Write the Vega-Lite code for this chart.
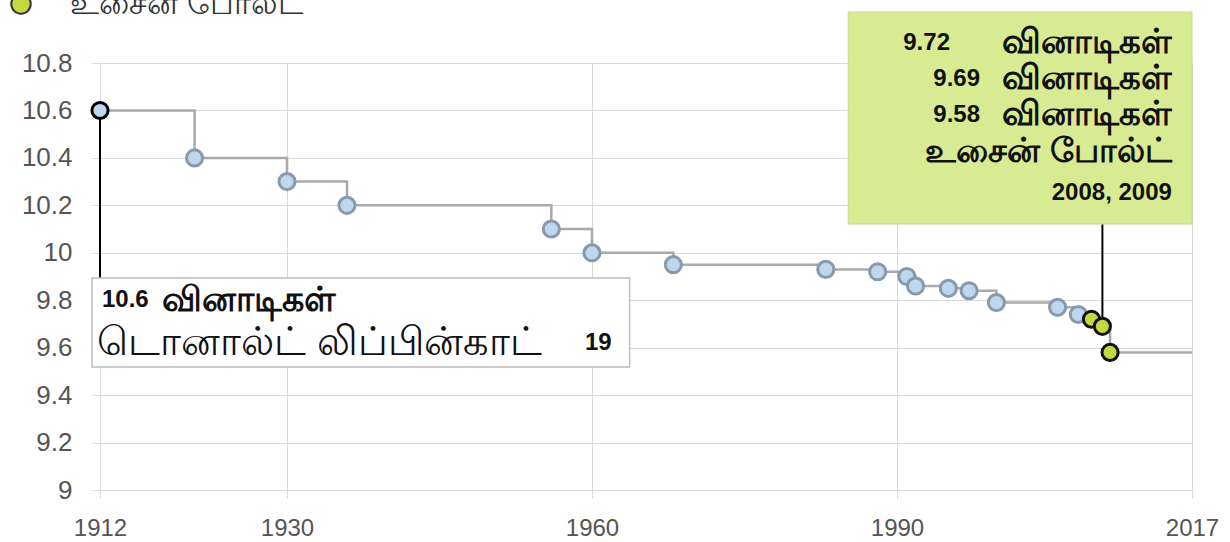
{
  "$schema": "https://vega.github.io/schema/vega-lite/v6.json",
  "width": 1092,
  "height": 427,
  "autosize": {"type": "none"},
  "padding": {"left": 100, "top": 63, "right": 38, "bottom": 52},
  "background": "white",
  "config": {"view": {"stroke": null}, "font": "Liberation Sans"},
  "data": {"values": [
    {"year": 1912, "time": 10.6, "athlete": "Lippincott", "kind": "record"},
    {"year": 1921.1, "time": 10.4, "athlete": "other", "kind": "record"},
    {"year": 1930, "time": 10.3, "athlete": "other", "kind": "record"},
    {"year": 1935.9, "time": 10.2, "athlete": "other", "kind": "record"},
    {"year": 1956, "time": 10.1, "athlete": "other", "kind": "record"},
    {"year": 1960, "time": 10.0, "athlete": "other", "kind": "record"},
    {"year": 1968, "time": 9.95, "athlete": "other", "kind": "record"},
    {"year": 1983, "time": 9.93, "athlete": "other", "kind": "record"},
    {"year": 1988.1, "time": 9.92, "athlete": "other", "kind": "record"},
    {"year": 1990.9, "time": 9.9, "athlete": "other", "kind": "record"},
    {"year": 1991.7, "time": 9.86, "athlete": "other", "kind": "record"},
    {"year": 1994.7, "time": 9.85, "athlete": "other", "kind": "record"},
    {"year": 1996.6, "time": 9.84, "athlete": "other", "kind": "record"},
    {"year": 1999.1, "time": 9.79, "athlete": "other", "kind": "record"},
    {"year": 2004.7, "time": 9.77, "athlete": "other", "kind": "record"},
    {"year": 2006.6, "time": 9.74, "athlete": "other", "kind": "record"},
    {"year": 2007.8, "time": 9.72, "athlete": "Bolt", "kind": "record"},
    {"year": 2008.8, "time": 9.69, "athlete": "Bolt", "kind": "record"},
    {"year": 2009.5, "time": 9.58, "athlete": "Bolt", "kind": "record"},
    {"year": 2017, "time": 9.58, "athlete": "none", "kind": "end"}
  ]},
  "layer": [
    {
      "mark": {"type": "line", "interpolate": "step-after", "color": "#a9a9a9", "strokeWidth": 2.5},
      "encoding": {
        "x": {"field": "year", "type": "quantitative",
          "scale": {"domain": [1912, 1930, 1960, 1990, 2017], "range": [0, 187, 492, 797, 1092], "nice": false, "zero": false},
          "axis": {"title": null, "values": [1912, 1930, 1960, 1990, 2017], "format": "d", "labelFontSize": 24, "labelColor": "#555", "labelFlush": false, "labelOverlap": false, "grid": true, "gridColor": "#d9d9d9", "domain": false, "tickColor": "#d9d9d9", "tickSize": 8, "labelPadding": 18, "labelFont": "Liberation Sans"}},
        "y": {"field": "time", "type": "quantitative",
          "scale": {"domain": [9, 10.8], "nice": false, "zero": false},
          "axis": {"title": null, "values": [9, 9.2, 9.4, 9.6, 9.8, 10, 10.2, 10.4, 10.6, 10.8], "format": ".1~f", "labelFontSize": 26, "labelColor": "#555", "labelFlush": false, "grid": true, "gridColor": "#d9d9d9", "domain": false, "tickColor": "#d9d9d9", "tickSize": 8, "labelPadding": 20, "labelFont": "Liberation Sans"}},
        "order": {"field": "year", "type": "quantitative"}
      }
    },
    {
      "data": {"values": [{}]},
      "mark": {"type": "rule", "color": "#000", "strokeWidth": 2},
      "encoding": {"x": {"datum": 1912}, "y": {"datum": 10.6}, "y2": {"datum": 9.894}}
    },
    {
      "data": {"values": [{}]},
      "mark": {"type": "rule", "color": "#000", "strokeWidth": 2},
      "encoding": {"x": {"datum": 2008.8}, "y": {"datum": 10.121}, "y2": {"datum": 9.71}}
    },
    {
      "transform": [{"filter": "datum.kind === 'record' && datum.athlete !== 'Bolt'"}],
      "mark": {"type": "point", "shape": "circle", "filled": true, "size": 260, "fill": "#bdd7ee", "strokeWidth": 3, "opacity": 1},
      "encoding": {
        "x": {"field": "year", "type": "quantitative"},
        "y": {"field": "time", "type": "quantitative"},
        "stroke": {"condition": {"test": "datum.athlete === 'Lippincott'", "value": "#000"}, "value": "#8799ab"}
      }
    },
    {
      "transform": [{"filter": "datum.athlete === 'Bolt'"}],
      "mark": {"type": "point", "shape": "circle", "filled": true, "size": 260, "stroke": "#111", "strokeWidth": 3, "opacity": 1},
      "encoding": {
        "x": {"field": "year", "type": "quantitative"},
        "y": {"field": "time", "type": "quantitative"},
        "fill": {"datum": "உசைன் போல்ட்", "type": "nominal", "scale": {"range": ["#c3d841"]},
          "legend": {"title": null, "orient": "none", "legendX": -95, "legendY": -75, "symbolType": "circle", "symbolSize": 380, "symbolStrokeColor": "#333", "symbolStrokeWidth": 2, "labelFontSize": 32, "labelColor": "#333", "labelOffset": 33, "labelLimit": 500, "labelFont": "Liberation Sans"}}
      }
    },
    {
      "data": {"values": [{}]},
      "mark": {"type": "rect", "fill": "#ffffff", "stroke": "#bdbdbd", "strokeWidth": 1.5},
      "encoding": {"x": {"datum": 1911.23}, "x2": {"datum": 1963.7}, "y": {"datum": 9.894}, "y2": {"datum": 9.519}}
    },
    {
      "data": {"values": [{}]},
      "mark": {"type": "text", "text": "10.6", "align": "left", "baseline": "middle", "fontSize": 24, "fontWeight": "bold", "color": "#111"},
      "encoding": {"x": {"datum": 1912.19}, "y": {"datum": 9.801}}
    },
    {
      "data": {"values": [{}]},
      "mark": {"type": "text", "text": "வினாடிகள்", "align": "left", "baseline": "middle", "fontSize": 35, "fontWeight": "bold", "color": "#111"},
      "encoding": {"x": {"datum": 1917.97}, "y": {"datum": 9.801}}
    },
    {
      "data": {"values": [{}]},
      "mark": {"type": "text", "text": "டொனால்ட் லிப்பின்காட்", "align": "left", "baseline": "middle", "fontSize": 40, "color": "#111"},
      "encoding": {"x": {"datum": 1911.71}, "y": {"datum": 9.62}}
    },
    {
      "data": {"values": [{}]},
      "mark": {"type": "text", "text": "19", "align": "left", "baseline": "middle", "fontSize": 24, "fontWeight": "bold", "color": "#111"},
      "encoding": {"x": {"datum": 1959.3}, "y": {"datum": 9.62}}
    },
    {
      "data": {"values": [{}]},
      "mark": {"type": "rect", "fill": "#d8eb92", "stroke": "#c8d59a", "strokeWidth": 1},
      "encoding": {"x": {"datum": 1985.2}, "x2": {"datum": 2017}, "y": {"datum": 11.015}, "y2": {"datum": 10.121}}
    },
    {
      "data": {"values": [{}]},
      "mark": {"type": "text", "text": "9.72", "align": "right", "baseline": "middle", "fontSize": 24, "fontWeight": "bold", "color": "#111"},
      "encoding": {"x": {"datum": 1994.85}, "y": {"datum": 10.8845}}
    },
    {
      "data": {"values": [{}]},
      "mark": {"type": "text", "text": "வினாடிகள்", "align": "right", "baseline": "middle", "fontSize": 34, "fontWeight": "bold", "color": "#111"},
      "encoding": {"x": {"datum": 2015.16}, "y": {"datum": 10.8845}}
    },
    {
      "data": {"values": [{}]},
      "mark": {"type": "text", "text": "9.69", "align": "right", "baseline": "middle", "fontSize": 24, "fontWeight": "bold", "color": "#111"},
      "encoding": {"x": {"datum": 1997.6}, "y": {"datum": 10.7327}}
    },
    {
      "data": {"values": [{}]},
      "mark": {"type": "text", "text": "வினாடிகள்", "align": "right", "baseline": "middle", "fontSize": 34, "fontWeight": "bold", "color": "#111"},
      "encoding": {"x": {"datum": 2015.16}, "y": {"datum": 10.7327}}
    },
    {
      "data": {"values": [{}]},
      "mark": {"type": "text", "text": "9.58", "align": "right", "baseline": "middle", "fontSize": 24, "fontWeight": "bold", "color": "#111"},
      "encoding": {"x": {"datum": 1997.6}, "y": {"datum": 10.581}}
    },
    {
      "data": {"values": [{}]},
      "mark": {"type": "text", "text": "வினாடிகள்", "align": "right", "baseline": "middle", "fontSize": 34, "fontWeight": "bold", "color": "#111"},
      "encoding": {"x": {"datum": 2015.16}, "y": {"datum": 10.581}}
    },
    {
      "data": {"values": [{}]},
      "mark": {"type": "text", "text": "உசைன் போல்ட்", "align": "right", "baseline": "middle", "fontSize": 34, "fontWeight": "bold", "color": "#111"},
      "encoding": {"x": {"datum": 2015.16}, "y": {"datum": 10.425}}
    },
    {
      "data": {"values": [{}]},
      "mark": {"type": "text", "text": "2008,  2009", "align": "right", "baseline": "middle", "fontSize": 24, "fontWeight": "bold", "color": "#111"},
      "encoding": {"x": {"datum": 2015.16}, "y": {"datum": 10.252}}
    }
  ]
}
